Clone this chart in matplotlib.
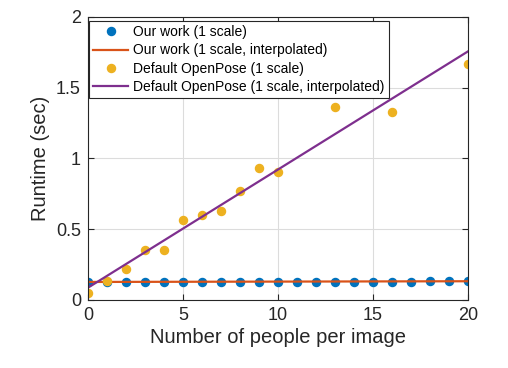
import numpy as np
import matplotlib
matplotlib.use("Agg")
import matplotlib.pyplot as plt

## DATA ##
people = [0, 1, 2, 3, 4, 5, 6, 7, 8, 9, 10, 11, 12, 13, 14, 15, 16, 17, 18, 19, 20]
ours_runtime = [0.128, 0.128, 0.128, 0.128, 0.128, 0.128, 0.128, 0.128, 0.129, 0.129, 0.129,
                0.129, 0.129, 0.130, 0.130, 0.130, 0.130, 0.130, 0.131, 0.131, 0.131]
ours_fit_x = [0, 20]
ours_fit_y = [0.127, 0.132]

openpose_people = [0, 1, 2, 3, 4, 5, 6, 7, 8, 9, 10, 13, 16, 20]
openpose_runtime = [0.05, 0.137, 0.222, 0.356, 0.356, 0.563, 0.601, 0.627, 0.768, 0.930,
                    0.905, 1.363, 1.328, 1.669]
openpose_fit_x = [0, 20]
openpose_fit_y = [0.086, 1.756]

labels = ["Our work (1 scale)", "Our work (1 scale, interpolated)",
          "Default OpenPose (1 scale)", "Default OpenPose (1 scale, interpolated)"]

plt.rcParams["font.family"] = ["Liberation Sans", "DejaVu Sans"]
dark = "#262626"

fig = plt.figure(figsize=(5.08, 3.68), dpi=100)
ax = fig.add_axes([0.173, 0.185, 0.748, 0.769])

ax.plot(people, ours_runtime, "o", color="#0072BD", markersize=5.8, label=labels[0])
ax.plot(ours_fit_x, ours_fit_y, "-", color="#D95319", linewidth=1.6, label=labels[1])
ax.plot(openpose_people, openpose_runtime, "o", color="#EDB120", markersize=5.8, label=labels[2])
ax.plot(openpose_fit_x, openpose_fit_y, "-", color="#7E2F8E", linewidth=1.6, label=labels[3])

ax.set_xlim(0, 20)
ax.set_ylim(0, 2)
ax.set_xticks([0, 5, 10, 15, 20])
ax.set_yticks([0, 0.5, 1, 1.5, 2])
ax.set_yticklabels(["0", "0.5", "1", "1.5", "2"])
ax.grid(True, color="#dcdcdc", linewidth=0.8)
ax.set_axisbelow(True)
ax.tick_params(direction="in", top=True, right=True, labelsize=13, colors=dark,
               length=4, width=0.8, pad=5)
for s in ax.spines.values():
    s.set_color(dark)
    s.set_linewidth(0.8)

ax.set_xlabel("Number of people per image", fontsize=14.5, color=dark, labelpad=3)
ax.set_ylabel("Runtime (sec)", fontsize=14.5, color=dark, labelpad=4)

leg = ax.legend(loc="upper left", bbox_to_anchor=(0.0, 0.99), fontsize=10,
                frameon=True, fancybox=False, edgecolor=dark, framealpha=1,
                handlelength=2.5, handletextpad=0.35, borderpad=0.3,
                labelspacing=0.3, borderaxespad=0.1)
leg.get_frame().set_linewidth(0.8)

fig.savefig("out.png", dpi=100)
